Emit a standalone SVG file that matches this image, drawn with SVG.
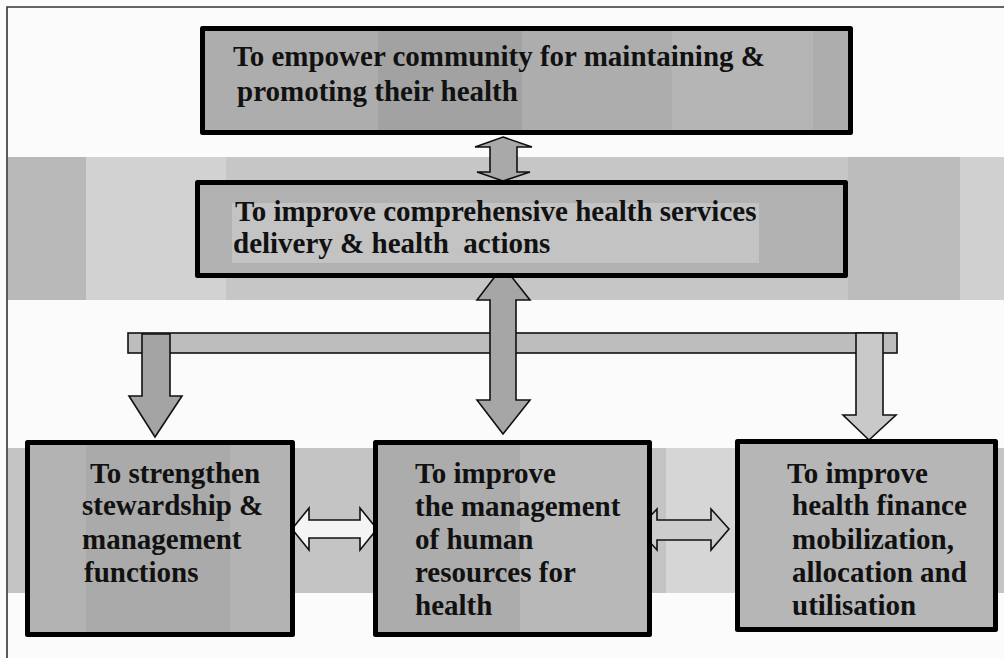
<svg xmlns="http://www.w3.org/2000/svg" width="1004" height="658" viewBox="0 0 1004 658">
  <style>
    .lbl { font-family: "Liberation Serif", "Times New Roman", serif; font-weight: bold; font-size: 29px; fill: #111; white-space: pre; }
    .box { stroke: #000; stroke-width: 5; stroke-linejoin: round; }
    .arrow { stroke: #111; stroke-width: 1.6; stroke-linejoin: miter; }
  </style>

  <!-- page background and frame -->
  <rect x="0" y="0" width="1004" height="658" fill="#fbfbfb"/>
  <g id="bands">
    <rect x="8" y="157" width="996" height="143" fill="#c6c6c6"/>
    <rect x="8" y="157" width="78" height="143" fill="#b9b9b9"/>
    <rect x="86" y="157" width="140" height="143" fill="#d2d2d2"/>
    <rect x="848" y="157" width="112" height="143" fill="#bcbcbc"/>
    <rect x="960" y="157" width="44" height="143" fill="#d0d0d0"/>
    <rect x="8" y="448" width="996" height="145" fill="#c4c4c4"/>
    <rect x="666" y="448" width="70" height="145" fill="#d6d6d6"/>
  </g>
  <path d="M7 658 V7 H1004" fill="none" stroke="#333" stroke-width="1.6"/>

  <!-- connectors -->
  <g id="connectors">
    <!-- link bar to the three lower goals -->
    <rect class="arrow" x="128" y="333" width="769" height="20" fill="#bdbdbd"/>
    <!-- top goal <-> service delivery -->
    <path class="arrow" fill="#a9a9a9" d="M503 137 L532 147 L517 147 L517 172 L530 172 L503 181 L477 172 L490 172 L490 147 L475 147 Z"/>
    <!-- service delivery <-> human resources -->
    <path class="arrow" fill="#a6a6a6" d="M503 266 L530 300 L516 300 L516 400 L530 400 L503 434 L477 400 L490 400 L490 300 L477 300 Z"/>
    <!-- bar -> stewardship -->
    <path class="arrow" fill="#a4a4a4" d="M142 334 L170 334 L170 396 L182 396 L155 437 L129 396 L142 396 Z"/>
    <!-- bar -> health finance -->
    <path class="arrow" fill="#c9c9c9" d="M856 333 L883 333 L883 415 L896 415 L869 440 L843 415 L856 415 Z"/>
    <!-- stewardship <-> human resources -->
    <path class="arrow" fill="#f4f4f4" d="M292 529 L309 508 L309 520 L360 520 L360 508 L377 529 L360 550 L360 538 L309 538 L309 550 Z"/>
    <!-- human resources <-> health finance -->
    <path class="arrow" fill="#cdcdcd" d="M638 529 L657 509 L657 520 L711 520 L711 509 L729 529 L711 550 L711 540 L657 540 L657 550 Z"/>
  </g>

  <!-- top goal -->
  <g id="empower-community">
    <rect class="box" x="202.5" y="28.5" width="648" height="104" fill="#adadad"/>
    <rect x="378" y="31" width="144" height="99" fill="#a2a2a2"/>
    <rect x="672" y="31" width="141" height="99" fill="#b5b5b5"/>
    <text class="lbl" x="233" y="66">To empower community for maintaining &amp;</text>
    <text class="lbl" x="237" y="101">promoting their health</text>
  </g>

  <!-- service delivery -->
  <g id="service-delivery">
    <rect class="box" x="197.5" y="182.5" width="648" height="93" fill="#b1b1b1"/>
    <rect x="232" y="203" width="527" height="60" fill="#c3c3c3"/>
    <text class="lbl" x="235" y="221">To improve comprehensive health services</text>
    <text class="lbl" x="233" y="253">delivery &amp; health  actions</text>
  </g>

  <!-- stewardship -->
  <g id="stewardship">
    <rect class="box" x="27.5" y="442.5" width="265" height="192" fill="#b3b3b3"/>
    <rect x="86" y="445" width="144" height="187" fill="#aaaaaa"/>
    <text class="lbl" x="90" y="483">To strengthen</text>
    <text class="lbl" x="82" y="515">stewardship &amp;</text>
    <text class="lbl" x="82" y="549">management</text>
    <text class="lbl" x="84" y="582">functions</text>
  </g>

  <!-- human resources -->
  <g id="human-resources">
    <rect class="box" x="375.5" y="442.5" width="274" height="192" fill="#b8b8b8"/>
    <rect x="378" y="445" width="142" height="187" fill="#acacac"/>
    <text class="lbl" x="415" y="483">To improve</text>
    <text class="lbl" x="415" y="516">the management</text>
    <text class="lbl" x="415" y="549">of human</text>
    <text class="lbl" x="415" y="582">resources for</text>
    <text class="lbl" x="415" y="615">health</text>
  </g>

  <!-- health finance -->
  <g id="health-finance">
    <rect class="box" x="737.5" y="441.5" width="258" height="188" fill="#b6b6b6"/>
    <text class="lbl" x="787" y="483">To improve</text>
    <text class="lbl" x="792" y="515">health finance</text>
    <text class="lbl" x="792" y="549">mobilization,</text>
    <text class="lbl" x="792" y="582">allocation and</text>
    <text class="lbl" x="792" y="615">utilisation</text>
  </g>
</svg>
